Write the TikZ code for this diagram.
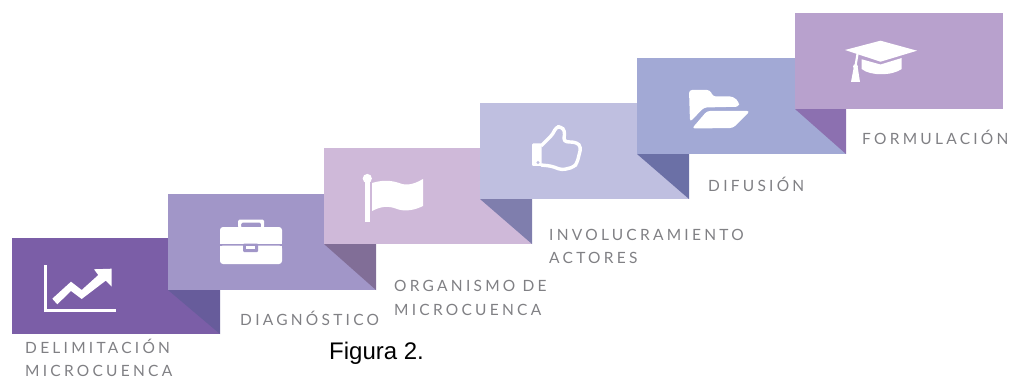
\documentclass[tikz,border=0pt]{standalone}
\usepackage{fontspec}
\setmainfont{Lato}
\newfontfamily\capfont{Liberation Sans}
\newfontfamily\lblfont[LetterSpace=21]{Lato}
\definecolor{a1}{HTML}{7B5EA7}\definecolor{f1}{HTML}{675C9B}
\definecolor{a2}{HTML}{A196C8}\definecolor{f2}{HTML}{816E97}
\definecolor{a3}{HTML}{CFB9D9}\definecolor{f3}{HTML}{7F7EAD}
\definecolor{a4}{HTML}{BFBFE0}\definecolor{f4}{HTML}{6B70A6}
\definecolor{a5}{HTML}{A2A9D5}\definecolor{f5}{HTML}{8C70B0}
\definecolor{a6}{HTML}{B8A1CD}
\definecolor{lbl}{HTML}{808084}
\tikzset{
 steplabel/.style={anchor=north west,inner sep=0pt,text=lbl,font=\lblfont\fontsize{15.5}{23.5}\selectfont,align=left},
 icon/.style={fill=white,draw=none},
}
\begin{document}
\begin{tikzpicture}[x=1pt,y=-1pt]
\useasboundingbox (0,0) rectangle (1010,377);
% steps
\fill[a1] (12,238) rectangle (220,334);
\fill[f1] (168,290) -- (220,290) -- (220,334) -- cycle;
\fill[a2] (168,194) rectangle (376,290);
\fill[f2] (324,244) -- (376,244) -- (376,290) -- cycle;
\fill[a3] (324,148) rectangle (532,244);
\fill[f3] (480,199) -- (532,199) -- (532,244) -- cycle;
\fill[a4] (480,103) rectangle (689,199);
\fill[f4] (637,154) -- (689,154) -- (689,199) -- cycle;
\fill[a5] (637,58) rectangle (846,154);
\fill[f5] (795,109) -- (846,109) -- (846,154) -- cycle;
\fill[a6] (795,13) rectangle (1003,109);
% chart icon
\draw[white,line width=3pt] (45,265) -- (45,310) -- (116,310);
\fill[icon] (52.3,298.7) -- (71,281.7) -- (81.7,290) -- (98.3,275) -- (94,269.3) -- (111.7,268.7) -- (111.7,286.7) -- (105.7,280.7) -- (81.7,299) -- (71,291) -- (57.3,304.3) -- cycle;
% briefcase
\fill[icon,rounded corners=3pt] (220,227) -- (282,227) -- (282,243.5) -- (220,243.5) -- cycle;
\fill[icon,rounded corners=3pt] (220,245.5) -- (282,245.5) -- (282,264) -- (220,264) -- cycle;
\fill[icon] (220,241) rectangle (282,243.5);
\fill[icon] (220,245.5) rectangle (282,248);
\fill[icon,even odd rule,rounded corners=1.5pt] (238,219.5) rectangle (264,228) (241,222.5) rectangle (261,228);
\fill[a2,rounded corners=1pt] (243,243.5) rectangle (258,252);
\fill[icon] (246,245.5) rectangle (255,249);
% flag
\fill[icon] (365,178) rectangle (369.7,222);
\fill[icon] (367.3,178.5) circle (4.6);
\fill[icon] (372,183) .. controls (385,179) and (394,181) .. (402,184) .. controls (410,186) and (418,182) .. (423,179) -- (423,206) .. controls (415,210) and (405,212) .. (397,209) .. controls (387,205) and (380,207) .. (372,211) -- cycle;
% thumb
\fill[icon,rounded corners=1pt] (532,143.5) -- (541.5,143.5) -- (541.5,166) -- (532,166) -- cycle;
\draw[white,line width=3.4pt,rounded corners=3.5pt,line join=round] (541,146) -- (553,134) -- (556,127) -- (561,126.5) -- (565,131) -- (563.5,141.5) -- (577,142.5) -- (581,147) -- (577,163) -- (574,167) -- (562,170) -- (551,166) -- (541,165);
\fill[a4] (538,162.5) circle (1.7);
% folder
\fill[icon,rounded corners=3pt] (689,90) -- (710,90) -- (713,96.5) -- (733,96.5) -- (739,102) -- (739,106.7) -- (704,107.5) -- (690,122) -- cycle;
\fill[icon,rounded corners=3pt] (707,111) -- (750,111) -- (733,128) -- (692,128.5) -- cycle;
% cap
\fill[icon] (845,50) -- (880.5,40.7) -- (917,50.7) -- (880.5,61.7) -- cycle;
\fill[icon] (861.7,59.3) -- (880.5,64.5) -- (901.7,58) -- (901.7,69) .. controls (892,76) and (870,76) .. (861.7,69) -- cycle;
\draw[white,line width=2.2pt] (857.5,54) -- (855.5,66);
\fill[icon] (851,82) -- (854,66) -- (857.5,66) -- (860,82) -- cycle;
\fill[icon] (855.5,66.5) circle (2.4);
% labels
\node[steplabel] (l1) at (25,338.5) {DELIMITACIÓN\\MICROCUENCA};
\node[steplabel] (l2) at (240,310.5) {DIAGNÓSTICO};
\node[steplabel] (l3) at (394,280.5) {ORGANISMO DE\\MICROCUENCA};
\node[steplabel] (l4) at (549,229) {INVOLUCRAMIENTO\\ACTORES};
\node[steplabel] (l5) at (708,177) {DIFUSIÓN};
\node[steplabel] (l6) at (862,129.5) {FORMULACIÓN};
\node[anchor=west,inner sep=0pt,font=\capfont\fontsize{24}{28}\selectfont,text=black] (cap) at (329,353.5) {Figura 2.};
\end{tikzpicture}
\end{document}
